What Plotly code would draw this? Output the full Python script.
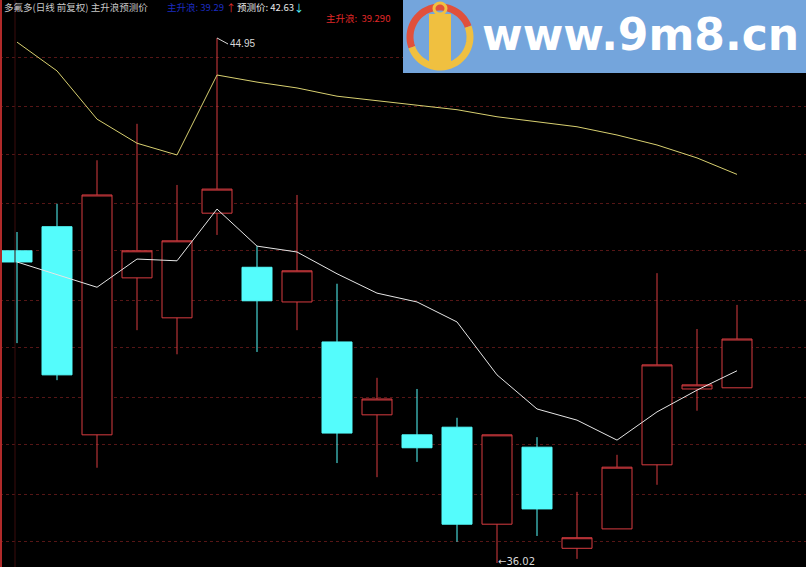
import math
import plotly.graph_objects as go

# ---------------- data ----------------
bars = list(range(19))
open_ = [41.33, 41.74, 38.20, 40.87, 40.19, 41.97, 41.05, 40.46, 39.78, 38.54,
         38.20, 38.33, 36.68, 37.99, 36.27, 36.60, 37.69, 38.98, 39.00]
high = [41.65, 42.13, 42.87, 43.49, 42.45, 44.95, 41.41, 42.28, 40.77, 39.17,
        38.98, 38.49, 38.20, 38.16, 37.23, 37.86, 40.95, 40.00, 40.41]
low = [39.76, 39.13, 37.64, 39.98, 39.57, 41.60, 39.61, 39.98, 37.72, 37.48,
       37.74, 36.38, 36.02, 36.48, 36.09, 36.60, 37.35, 38.61, 39.00]
close = [41.14, 39.22, 42.28, 41.33, 41.50, 42.38, 40.48, 40.99, 38.23, 38.81,
         37.98, 36.68, 38.20, 36.94, 36.45, 37.65, 39.39, 39.05, 39.83]
main_wave = [41.14, 40.92, 40.71, 41.19, 41.16, 42.04, 41.41, 41.31, 40.94, 40.61,
             40.46, 40.12, 39.22, 38.64, 38.45, 38.11, 38.59, 38.96, 39.29]
forecast = [44.88, 44.39, 43.57, 43.16, 42.96, 44.32, 44.20, 44.10, 43.96, 43.88,
            43.81, 43.73, 43.61, 43.52, 43.44, 43.30, 43.13, 42.91, 42.63]
grid_levels = [44.61, 43.79, 42.96, 42.14, 41.33, 40.49, 39.68, 38.84, 38.03, 37.19, 36.38]
hi_idx, hi_val = 5, 44.95
lo_idx, lo_val = 12, 36.02

W, H = 806, 567
RED = "#d83c40"
CYAN = "#54fcfc"


def px(x):
    return x / W


def py(y):
    return 1 - y / H


fig = go.Figure()
fig.add_trace(go.Candlestick(
    x=bars, open=open_, high=high, low=low, close=close,
    increasing=dict(line=dict(color=RED, width=1), fillcolor="#000000"),
    decreasing=dict(line=dict(color=CYAN, width=1), fillcolor=CYAN),
    whiskerwidth=0, showlegend=False, hoverinfo="skip"))
fig.add_trace(go.Scatter(x=bars, y=forecast, mode="lines",
                         line=dict(color="#d8d070", width=1), showlegend=False, hoverinfo="skip"))
fig.add_trace(go.Scatter(x=bars, y=main_wave, mode="lines",
                         line=dict(color="#e6e6e6", width=1), showlegend=False, hoverinfo="skip"))

shapes = []
# left border lines
shapes.append(dict(type="line", xref="paper", yref="paper", x0=px(1), x1=px(1), y0=0, y1=1,
                   line=dict(color="#b02a2a", width=2)))
shapes.append(dict(type="line", xref="paper", yref="paper", x0=px(15), x1=px(15), y0=0, y1=1,
                   line=dict(color="#3a0c0c", width=1)))
# watermark
shapes.append(dict(type="rect", xref="paper", yref="paper", x0=px(403), x1=1, y0=py(73), y1=1,
                   fillcolor="#74a5dc", line=dict(width=0), layer="above"))
cx, cy, r = 440, 37, 30


def arc(a0, a1, n=30):
    pts = []
    for i in range(n + 1):
        a = math.radians(a0 + (a1 - a0) * i / n)
        pts.append((px(cx + r * math.cos(a)), py(cy - r * math.sin(a))))
    return "M " + " L ".join(f"{x:.5f},{y:.5f}" for x, y in pts)


shapes.append(dict(type="path", xref="paper", yref="paper", path=arc(20, 200),
                   line=dict(color="#e0503c", width=7), layer="above"))
shapes.append(dict(type="path", xref="paper", yref="paper", path=arc(200, 380),
                   line=dict(color="#f0c040", width=7), layer="above"))
shapes.append(dict(type="rect", xref="paper", yref="paper", x0=px(429), x1=px(451), y0=py(66), y1=py(14),
                   fillcolor="#f0c040", line=dict(width=0), layer="above"))
shapes.append(dict(type="circle", xref="paper", yref="paper", x0=px(434), x1=px(446), y0=py(14), y1=py(3),
                   fillcolor="rgba(0,0,0,0)", line=dict(color="#f0c040", width=3), layer="above"))

ann = []
cjk = "Noto Sans CJK SC"
ann.append(dict(xref="paper", yref="paper", x=px(2), y=py(7), xanchor="left", yanchor="middle",
                text="多氟多(日线 前复权) 主升浪预测价", showarrow=False,
                font=dict(family=cjk, size=9.5, color="#c8c8c8")))
ann.append(dict(xref="paper", yref="paper", x=px(165), y=py(7), xanchor="left", yanchor="middle",
                text="主升浪: 39.29", showarrow=False,
                font=dict(family=cjk, size=9.5, color="#1c2cc0")))
ann.append(dict(xref="paper", yref="paper", x=px(224), y=py(7), xanchor="left", yanchor="middle",
                text="↑", showarrow=False, font=dict(family=cjk, size=10, color="#e03030")))
ann.append(dict(xref="paper", yref="paper", x=px(235), y=py(7), xanchor="left", yanchor="middle",
                text="预测价: 42.63", showarrow=False,
                font=dict(family=cjk, size=9.5, color="#e8e8e8")))
ann.append(dict(xref="paper", yref="paper", x=px(292), y=py(7), xanchor="left", yanchor="middle",
                text="↓", showarrow=False, font=dict(family=cjk, size=10, color=CYAN)))
ann.append(dict(xref="paper", yref="paper", x=px(324), y=py(18), xanchor="left", yanchor="middle",
                text="主升浪:  39.290", showarrow=False,
                font=dict(family=cjk, size=9.5, color="#e02828")))
ann.append(dict(xref="paper", yref="paper", x=px(640), y=py(34), xanchor="center", yanchor="middle",
                text="<b>www.9m8.cn</b>", showarrow=False,
                font=dict(family="DejaVu Sans", size=44, color="#ffffff")))
ann.append(dict(x=hi_idx, y=hi_val, xref="x", yref="y", text=f"{hi_val:.2f}", showarrow=True,
                ax=11, ay=6, xanchor="left", yanchor="middle", arrowhead=0, arrowwidth=1,
                arrowcolor="#d8d8d8", standoff=0,
                font=dict(family="Liberation Sans", size=10, color="#d8d8d8")))
ann.append(dict(x=lo_idx, y=lo_val, xref="x", yref="y", text=f"←{lo_val:.2f}", showarrow=False,
                xanchor="left", yanchor="middle", xshift=-1, yshift=2,
                font=dict(family="DejaVu Sans", size=10, color="#d8d8d8")))

fig.update_layout(
    width=W, height=H, margin=dict(l=0, r=0, t=0, b=0),
    paper_bgcolor="#000000", plot_bgcolor="#000000",
    showlegend=False, shapes=shapes, annotations=ann, hovermode=False,
    xaxis=dict(range=[-0.425, 19.725], showgrid=False, zeroline=False, showticklabels=False,
               ticks="", rangeslider=dict(visible=False), fixedrange=True),
    yaxis=dict(range=[35.952, 45.596], showgrid=True, gridcolor="#561616", griddash="dot",
               gridwidth=1, tickvals=grid_levels, showticklabels=False, ticks="",
               zeroline=False, fixedrange=True),
    boxgap=0.25, boxgroupgap=0,
)
fig.write_html("out.html", config={"displayModeBar": False},
               post_script="document.body.style.margin='0';document.body.style.overflow='hidden';")
